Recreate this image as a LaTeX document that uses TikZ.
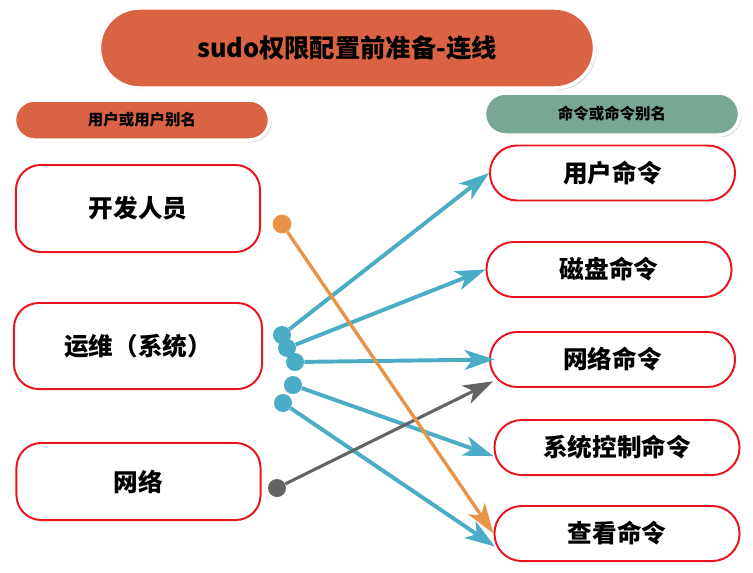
\documentclass[tikz,border=0pt]{standalone}
\usepackage{fontspec}
\setmainfont{Noto Sans CJK SC}
\usepackage{tikz}
\usetikzlibrary{calc, positioning, arrows.meta, shadows}
\definecolor{titleorange}{RGB}{217,99,67}
\definecolor{headgreen}{RGB}{120,167,148}
\definecolor{boxred}{RGB}{232,20,30}
\definecolor{lineblue}{RGB}{75,172,198}
\definecolor{lineorange}{RGB}{232,148,72}
\definecolor{linegray}{RGB}{100,100,100}

\begin{document}
\begin{tikzpicture}[x=0.025cm, y=-0.025cm,
    pill/.style={rectangle, draw=white, line width=2.5pt, align=center,
      drop shadow={shadow xshift=1.5pt, shadow yshift=-1.5pt, opacity=0.3}},
    userbox/.style={rectangle, draw=boxred, line width=1.4pt, rounded corners=0.62cm,
      minimum width=6.1cm, font=\fontsize{17.5}{20}\selectfont\bfseries, fill=white},
    cmdbox/.style={rectangle, draw=boxred, line width=1.4pt, rounded corners=0.68cm,
      minimum width=6.125cm, minimum height=1.375cm, font=\fontsize{17.5}{20}\selectfont\bfseries, fill=white},
    dot/.style={circle, inner sep=0pt, minimum size=0.45cm},
    link/.style={line width=2.8pt, color=lineblue, -{Stealth[length=0.75cm, width=0.5cm, inset=0.2cm]}}
  ]
  \useasboundingbox (0, 0) rectangle (753, 572);

  % headers
  \node[pill, fill=titleorange, rounded corners=1cm, minimum width=12.375cm, minimum height=2cm,
    font=\fontsize{18}{20}\selectfont\bfseries] (title) at (347, 48) {sudo权限配置前准备-连线};
  \node[pill, fill=titleorange, rounded corners=0.5cm, minimum width=6.375cm, minimum height=1cm,
    font=\fontsize{11}{13}\selectfont\bfseries] (userhead) at (142, 120) {用户或用户别名};
  \node[pill, fill=headgreen, rounded corners=0.52cm, minimum width=6.375cm, minimum height=1.05cm,
    font=\fontsize{11}{13}\selectfont\bfseries] (cmdhead) at (612, 114) {命令或命令别名};

  % users
  \node[userbox, minimum height=2.175cm] (dev) at (138, 208.5) {开发人员};
  \node[userbox, minimum height=2.15cm, minimum width=6.2cm] (ops) at (138, 346) {运维（系统）};
  \node[userbox, minimum height=1.925cm] (net) at (138.5, 481.5) {网络};

  % commands
  \node[cmdbox] (usercmd) at (612.5, 173) {用户命令};
  \node[cmdbox] (diskcmd) at (609, 269.5) {磁盘命令};
  \node[cmdbox] (netcmd) at (612.5, 359.5) {网络命令};
  \node[cmdbox] (syscmd) at (617, 447.5) {系统控制命令};
  \node[cmdbox] (viewcmd) at (617, 533.5) {查看命令};

  % start points
  \node[dot, fill=lineorange, minimum size=0.47cm] (devdot) at (282, 224) {};
  \node[dot, fill=lineblue] (opsa) at (282, 335) {};
  \node[dot, fill=lineblue] (opsb) at (287, 348) {};
  \node[dot, fill=lineblue] (opsc) at (295, 362) {};
  \node[dot, fill=lineblue] (opsd) at (293, 385) {};
  \node[dot, fill=lineblue] (opse) at (283, 403) {};
  \node[dot, fill=linegray] (netdot) at (277, 488) {};

  \draw[link] (opsa) -- (usercmd.west);
  \draw[link] (opsb) -- (diskcmd.west);
  \draw[link] (opsc) -- ([xshift=4pt]netcmd.west);
  \draw[link] (opsd) -- (syscmd.184);
  \draw[link] (opse) -- ([xshift=1pt]viewcmd.186);
  \draw[link, color=linegray, line width=2.2pt] (netdot) -- ([xshift=3pt]netcmd.190);
  \draw[link, color=lineorange, line width=2.4pt] (devdot) -- (viewcmd.west);
\end{tikzpicture}
\end{document}
